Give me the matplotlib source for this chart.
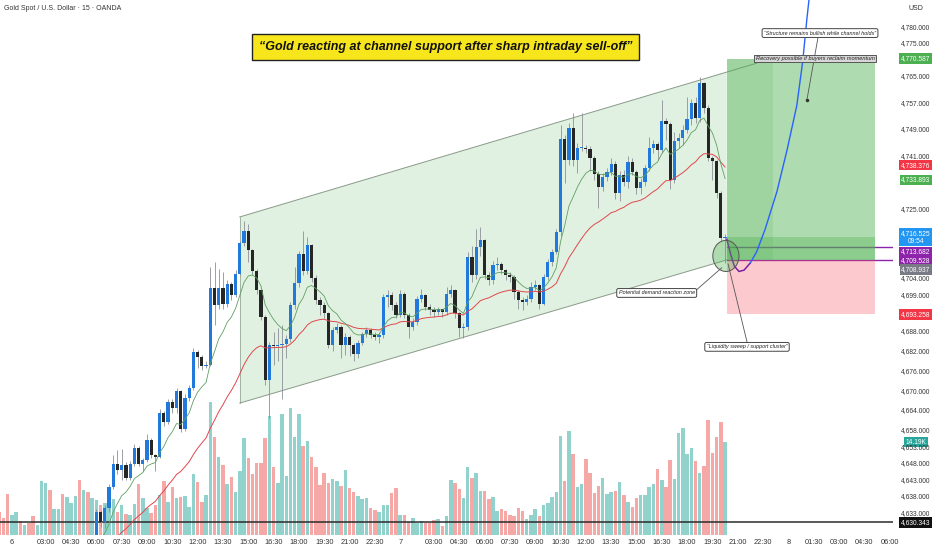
import numpy as np
import pandas as pd
import matplotlib
matplotlib.use("Agg")
import matplotlib.pyplot as plt
import matplotlib.transforms as mtransforms
from matplotlib.patches import Rectangle, Ellipse, Polygon

FONT = ['Liberation Sans Narrow', 'DejaVu Sans Condensed', 'Liberation Sans', 'DejaVu Sans']
plt.rcParams['font.family'] = FONT

# ---------------- data ----------------
first_bar = -3
first_open = 4619.0
closes = [
    4617, 4616, 4613, 4615, 4617, 4616, 4617, 4616, 4614, 4615, 4619, 4622, 4619,
    4620, 4621, 4618, 4620, 4621, 4624, 4620, 4623, 4621, 4624,
    4633.5, 4630.5, 4634.7, 4641.0, 4648.1, 4646.1, 4647.8, 4643.8, 4648.1, 4652.9,
    4648.1, 4649.1, 4655.2, 4650.6, 4650.1, 4663.5, 4660.7, 4666.8, 4664.8, 4670.0,
    4658.7, 4668.0, 4671.0, 4681.9, 4680.2, 4677.6, 4677.9, 4701.3, 4696.2, 4701.3,
    4696.5, 4702.3, 4699.0, 4705.4, 4714.9, 4718.5, 4712.6, 4706.3, 4700.5, 4692.5,
    4673.4, 4683.9, 4683.6, 4683.9, 4684.2, 4685.7, 4696.0, 4702.6, 4711.6, 4706.3,
    4714.2, 4704.1, 4697.5, 4696.0, 4693.5, 4683.9, 4688.5, 4689.5, 4683.9, 4686.4,
    4683.9, 4681.2, 4684.7, 4687.4, 4688.5, 4687.0, 4686.5, 4687.0, 4698.5, 4699.0,
    4696.0, 4693.0, 4699.5, 4693.0, 4689.5, 4691.0, 4698.0, 4699.2, 4695.5, 4694.5,
    4694.0, 4694.8, 4693.8, 4699.5, 4700.6, 4693.5, 4689.0, 4689.5, 4710.6, 4705.1,
    4713.7, 4715.7, 4705.1, 4703.6, 4708.1, 4708.6, 4706.6, 4705.1, 4704.6, 4700.0,
    4697.5, 4697.0, 4698.0, 4701.6, 4702.0, 4696.5, 4704.5, 4709.1, 4712.0, 4718.2,
    4746.4, 4739.9, 4749.5, 4739.9, 4743.4, 4743.6, 4743.2, 4740.4, 4735.8, 4731.8,
    4734.8, 4736.4, 4738.6, 4729.8, 4735.3, 4733.3, 4739.4, 4736.4, 4731.3, 4733.3,
    4737.6, 4743.4, 4744.6, 4742.9, 4751.7, 4750.7, 4733.8, 4745.6, 4746.5, 4748.9,
    4752.3, 4757.2, 4752.5, 4763.1, 4755.5, 4740.6, 4739.6, 4729.8, 4716.2, 4716.5,
]
highs = [
    4620, 4618, 4617, 4616, 4618, 4618, 4618, 4618, 4617, 4616, 4620, 4623, 4623,
    4621, 4622, 4622, 4621, 4623, 4625, 4625, 4624, 4624, 4625,
    4634.5, 4634.0, 4635.5, 4642.0, 4650.6, 4652.1, 4652.5, 4648.5, 4649.0, 4654.0,
    4653.5, 4649.8, 4657.0, 4655.8, 4651.0, 4664.5, 4664.0, 4667.5, 4667.5, 4671.0,
    4670.5, 4669.0, 4672.0, 4683.0, 4682.5, 4681.0, 4679.0, 4707.5, 4709.0, 4707.0,
    4706.0, 4703.5, 4703.0, 4706.5, 4715.5, 4721.5, 4720.5, 4713.0, 4707.0, 4701.0,
    4693.0, 4685.0, 4688.0, 4689.0, 4690.0, 4687.0, 4697.0, 4707.5, 4712.5, 4718.5,
    4716.5, 4714.5, 4705.0, 4698.5, 4697.0, 4694.0, 4689.5, 4690.5, 4690.0, 4687.5,
    4687.0, 4684.5, 4685.5, 4688.0, 4689.5, 4689.0, 4688.0, 4688.0, 4699.5, 4700.5,
    4700.0, 4697.0, 4700.5, 4700.0, 4693.5, 4692.0, 4698.8, 4701.0, 4699.5, 4696.5,
    4695.5, 4695.5, 4695.0, 4701.5, 4702.0, 4701.0, 4694.0, 4690.5, 4712.0, 4714.0,
    4719.0, 4719.5, 4716.0, 4706.0, 4709.5, 4710.5, 4709.0, 4707.0, 4706.0, 4705.0,
    4700.5, 4698.5, 4699.0, 4703.0, 4703.5, 4702.5, 4705.5, 4710.0, 4713.0, 4719.0,
    4750.5, 4747.5, 4751.0, 4754.0, 4745.0, 4754.0, 4744.5, 4744.0, 4741.0, 4736.5,
    4736.0, 4737.5, 4740.5, 4739.5, 4736.5, 4737.0, 4741.0, 4740.5, 4737.0, 4734.5,
    4738.5, 4747.0, 4746.0, 4745.5, 4758.0, 4752.5, 4751.5, 4748.5, 4748.0, 4750.5,
    4759.0, 4758.5, 4759.0, 4765.0, 4763.5, 4756.5, 4741.0, 4740.0, 4730.5, 4717.5,
]
lows = [
    4616, 4614, 4612, 4612, 4614, 4615, 4615, 4615, 4613, 4613, 4614, 4618, 4618,
    4618, 4619, 4617, 4617, 4619, 4620, 4619, 4619, 4620, 4620,
    4618.0, 4629.0, 4628.5, 4633.5, 4640.5, 4645.0, 4643.2, 4643.0, 4643.0, 4647.5,
    4647.5, 4646.0, 4648.5, 4649.8, 4646.0, 4649.8, 4659.5, 4660.0, 4663.5, 4663.5,
    4657.8, 4658.0, 4667.0, 4670.5, 4677.0, 4676.5, 4677.0, 4677.5, 4690.0, 4695.0,
    4695.0, 4695.5, 4697.5, 4698.5, 4705.0, 4714.0, 4709.0, 4705.0, 4699.5, 4691.5,
    4672.0, 4662.0, 4678.0, 4679.0, 4667.5, 4680.0, 4685.0, 4695.0, 4701.5, 4705.0,
    4705.5, 4703.0, 4696.5, 4693.0, 4692.0, 4683.0, 4682.0, 4687.5, 4680.0, 4681.0,
    4680.5, 4679.0, 4680.0, 4684.0, 4686.5, 4686.0, 4685.5, 4684.5, 4686.0, 4695.5,
    4694.5, 4692.0, 4692.5, 4692.0, 4686.0, 4688.5, 4690.0, 4697.0, 4694.5, 4693.0,
    4692.5, 4693.0, 4692.5, 4693.0, 4698.5, 4692.0, 4686.5, 4686.0, 4688.5, 4703.0,
    4704.0, 4711.0, 4704.0, 4702.0, 4702.5, 4706.5, 4705.5, 4703.5, 4703.0, 4698.0,
    4695.0, 4694.5, 4696.0, 4697.0, 4700.5, 4695.0, 4696.0, 4703.5, 4708.0, 4711.5,
    4717.0, 4733.0, 4738.5, 4738.0, 4736.0, 4742.5, 4742.0, 4736.5, 4734.0, 4725.5,
    4730.5, 4733.5, 4735.5, 4728.0, 4727.5, 4732.0, 4731.5, 4735.5, 4729.5, 4729.5,
    4732.0, 4736.5, 4742.0, 4740.0, 4742.0, 4746.0, 4731.0, 4733.0, 4743.5, 4744.5,
    4748.0, 4750.5, 4751.0, 4751.5, 4754.0, 4739.5, 4734.0, 4728.5, 4715.5, 4708.9,
]
volumes_k = [
    3.56, 2.65, 6.21, 3.05, 3.46, 2.14, 1.53, 1.78, 2.95, 1.50,
    8.24, 7.99, 6.87, 3.97, 3.97, 6.31, 5.80, 4.83, 5.95, 8.40,
    6.87, 6.51, 5.70, 5.34, 4.58, 4.83, 7.28, 5.45, 3.46, 4.58,
    3.16, 3.05, 4.68, 7.79, 5.60, 4.07, 3.41, 4.58, 6.11, 8.24,
    5.09, 7.28, 5.60, 5.85, 6.01, 4.22, 9.26, 8.14, 4.99, 6.11,
    20.36, 15.01, 11.86, 10.69, 7.74, 8.91, 6.62, 9.77, 14.76, 11.70,
    9.31, 11.04, 11.04, 14.76, 18.17, 10.43, 7.99, 18.47, 9.01, 19.34,
    14.91, 18.47, 13.59, 14.40, 11.96, 10.33, 7.63, 9.52, 7.89, 8.55,
    8.30, 7.48, 9.92, 7.12, 6.62, 5.95, 5.50, 5.60, 4.07, 3.82,
    3.46, 4.53, 4.53, 6.36, 7.12, 3.05, 3.05, 2.04, 2.54, 1.78,
    2.19, 1.88, 1.88, 2.29, 2.39, 1.37, 2.90, 8.40, 7.89, 6.97,
    5.70, 10.43, 8.75, 9.52, 6.72, 6.72, 5.45, 5.85, 3.72, 3.92,
    3.72, 3.05, 2.90, 4.07, 3.66, 2.39, 3.05, 3.97, 2.95, 4.58,
    4.94, 5.85, 6.51, 15.11, 8.24, 15.93, 12.32, 7.38, 7.79, 11.60,
    9.52, 6.36, 7.48, 8.65, 6.21, 6.51, 6.77, 8.09, 6.11, 5.09,
    4.33, 5.70, 6.11, 6.11, 7.28, 7.74, 10.08, 8.40, 7.28, 11.45,
    8.60, 15.62, 16.34, 12.37, 13.23, 11.30, 9.52, 10.53, 17.56, 12.47,
    14.91, 17.30, 14.19,
]

time_tick_pos = [0, 8, 14, 20, 26, 32, 38, 44, 50, 56, 62, 68, 74, 80, 86, 92, 100, 106,
                 112, 118, 124, 130, 136, 142, 148, 154, 160, 166, 172, 178, 184, 190,
                 196, 202, 208]
time_tick_labels = ['6', '03:00', '04:30', '06:00', '07:30', '09:00', '10:30', '12:00',
                    '13:30', '15:00', '16:30', '18:00', '19:30', '21:00', '22:30', '7',
                    '03:00', '04:30', '06:00', '07:30', '09:00', '10:30', '12:00', '13:30',
                    '15:00', '16:30', '18:00', '19:30', '21:00', '22:30', '8', '01:30',
                    '03:00', '04:30', '06:00']
price_ticks = [4780, 4775, 4765, 4757, 4749, 4741, 4725, 4704, 4699, 4688, 4682, 4676,
               4670, 4664, 4658, 4653, 4648, 4643, 4638, 4633]

ema_fast_span = 9
ema_slow_span = 30
ema_fast_last = 4733.893
ema_slow_last = 4738.376

target_price = 4770.587
entry_price = 4716.525
level_a = 4713.682
level_b = 4709.528
stop_price = 4693.258
sweep_low = 4708.937
support_level = 4630.343
last_volume_k = 14.19

# channel (bar index, price)
chan_x = [54.0, 169.4]
chan_upper = [4722.7, 4766.5]
chan_lower = [4666.4, 4709.7]

# projection path (bar index, price)
proj_x = [169.4, 170.3, 171.2, 172.3, 173.5, 175.0, 176.5, 178.5, 181.3, 183.7, 186.0, 187.4, 188.4, 189.2]
proj_y = [4716.0, 4711.5, 4707.8, 4706.2, 4706.6, 4708.8, 4712.2, 4719.0, 4730.4, 4743.0, 4756.4, 4769.7, 4782.7, 4792.0]

# ---------------- derived ----------------
x = np.arange(first_bar, first_bar + len(closes))
c = np.array(closes, float)
h = np.array(highs, float)
l = np.array(lows, float)
o = np.r_[first_open, c[:-1]]
up = c >= o
v = np.array(volumes_k, float)
ema_fast = pd.Series(c).ewm(span=ema_fast_span, adjust=False).mean().values
ema_slow = pd.Series(c).ewm(span=ema_slow_span, adjust=False).mean().values

UP = '#2179dc'
DOWN = '#262626'
WICK = '#8c8f98'
VOL_UP = (38/255, 166/255, 154/255, 0.5)
VOL_DN = (239/255, 83/255, 80/255, 0.5)

W, H = 932, 550
fig = plt.figure(figsize=(W/100, H/100), dpi=100)
fig.patch.set_facecolor('white')
rect = [0, 15/H, 893/W, 535/H]
XMIN, XMAX = -2.84, 208.8
YMIN, YMAX = 4626.5, 4788.3

axv = fig.add_axes(rect)
axv.bar(x, v, width=0.82, color=[VOL_UP if u else VOL_DN for u in up], linewidth=0)
axv.set_xlim(XMIN, XMAX)
axv.set_ylim(0, 81.7)
axv.axis('off')

ax = fig.add_axes(rect)
ax.patch.set_alpha(0)
ax.set_xlim(XMIN, XMAX)
ax.set_ylim(YMIN, YMAX)
for s in ax.spines.values():
    s.set_visible(False)
ax.set_yticks([])
ax.set_xticks(time_tick_pos)
ax.set_xticklabels(time_tick_labels)
ax.tick_params(axis='x', length=0, pad=3, labelsize=5.3, colors='#333333')

# channel
chan_poly = Polygon([(chan_x[0], chan_lower[0]), (chan_x[0], chan_upper[0]),
                     (chan_x[1], chan_upper[1]), (chan_x[1], chan_lower[1])],
                    closed=True, facecolor=(0.30, 0.69, 0.31, 0.17), edgecolor='none', zorder=1)
ax.add_patch(chan_poly)
slope_u = (chan_upper[1] - chan_upper[0]) / (chan_x[1] - chan_x[0])
ax.plot([chan_x[0], 176.5], [chan_upper[0], chan_upper[0] + slope_u*(176.5-chan_x[0])],
        color='#8a9a8a', lw=0.7, zorder=2)
ax.plot(chan_x, chan_lower, color='#8a9a8a', lw=0.7, zorder=2)
ax.plot([chan_x[0], chan_x[0]], [chan_lower[0], chan_upper[0]], color='#8a9a8a', lw=0.5, zorder=2)

# position tool boxes
x_box0, x_box1, x_box_mid = 169.4, 204.5, 180.3
ax.plot([x_box0, XMAX], [level_a, level_a], color='#8e24aa', lw=1.0, zorder=1.5)
ax.plot([x_box0, XMAX], [level_b, level_b], color='#8e24aa', lw=1.0, zorder=1.5)
ax.add_patch(Rectangle((x_box0, level_b), x_box1-x_box0, target_price-level_b,
                       facecolor=(0.30, 0.69, 0.31, 0.45), edgecolor='none', zorder=2))
ax.add_patch(Rectangle((x_box0, level_b), x_box_mid-x_box0, target_price-level_b,
                       facecolor=(0.30, 0.69, 0.31, 0.15), edgecolor='none', zorder=2))
ax.add_patch(Rectangle((x_box0, level_b), x_box1-x_box0, entry_price-level_b,
                       facecolor=(0.30, 0.69, 0.31, 0.35), edgecolor='none', zorder=2))
ax.add_patch(Rectangle((x_box0, stop_price), x_box1-x_box0, level_b-stop_price,
                       facecolor=(0.97, 0.32, 0.37, 0.30), edgecolor='none', zorder=2))

# support level
ax.axhline(support_level, color='#2b2b2b', lw=1.1, zorder=3)

# EMAs
ax.plot(x, ema_slow, color='#e0474c', lw=0.7, zorder=5)
ax.plot(x, ema_fast, color='#5f9f63', lw=0.6, zorder=5)

# candles
ax.vlines(x, l, h, color=WICK, lw=0.6, zorder=4)
body_lo = np.minimum(o, c)
body_h = np.maximum(np.abs(c - o), 0.3)
ax.bar(x, body_h, bottom=body_lo, width=0.76, color=[UP if u else DOWN for u in up],
       linewidth=0, zorder=4.5)

# projection curve
k = 5
ax.plot(proj_x[:k+1], proj_y[:k+1], color='#7b1fa2', lw=1.1, zorder=6, solid_capstyle='round')
ax.plot(proj_x[k:], proj_y[k:], color='#2962ff', lw=1.0, zorder=6, solid_capstyle='round')

# demand circle
ax.add_patch(Ellipse((169.2, 4710.9), 6.2, 9.4, facecolor=(0.30, 0.69, 0.31, 0.35),
                     edgecolor='#555555', lw=0.7, zorder=6))

# annotation connectors
ax.plot([161.4, 168.2], [4699.7, 4707.3], color='#555555', lw=0.6, zorder=6)
ax.plot([174.2, 169.7], [4684.9, 4708.5], color='#555555', lw=0.6, zorder=6)
ax.plot([191.0, 188.4], [4776.8, 4758.1], color='#555555', lw=0.6, zorder=6)
ax.plot([188.4], [4758.1], marker='o', ms=1.5, color='#333333', zorder=6)

box_kw = dict(boxstyle='round,pad=0.35,rounding_size=0.3', fc='white', ec='#444444', lw=0.7)
ax.text(152.8, 4699.7, 'Potential demand reaction zone', fontsize=3.9, style='italic',
        ha='center', va='center', bbox=box_kw, zorder=7, color='#222222')
ax.text(174.2, 4683.4, '\u201cLiquidity sweep / support cluster\u201d', fontsize=3.9, style='italic',
        ha='center', va='center', bbox=box_kw, zorder=7, color='#222222')
ax.text(191.5, 4778.3, '\u201cStructure remains bullish while channel holds\u201d', fontsize=3.9,
        style='italic', ha='center', va='center', bbox=box_kw, zorder=7, color='#222222')
ax.text(190.3, 4770.6, 'Recovery possible if buyers reclaim momentum', fontsize=4.1,
        style='italic', ha='center', va='center', zorder=7, color='#222222',
        bbox=dict(boxstyle='square,pad=0.25', fc='#d6d6d6', ec='#555555', lw=0.7))

# title
ax.text(102.8, 4774.1, '\u201cGold reacting at channel support after sharp intraday sell-off\u201d',
        fontsize=9.0, fontweight='bold', style='italic', ha='center', va='center', zorder=8,
        color='#111111',
        bbox=dict(boxstyle='square,pad=0.55', fc='#f8e61c', ec='#222222', lw=1.0))

# header
fig.text(4/W, 1 - 9/H, 'Gold Spot / U.S. Dollar \u00b7 15 \u00b7 OANDA', fontsize=5,
         va='center', ha='left', color='#333333')
fig.text(916/W, 1 - 9/H, 'USD', fontsize=5, va='center', ha='center', color='#333333')

# right price scale
tr = mtransforms.blended_transform_factory(ax.transAxes, ax.transData)
LX = 916/893
for p in price_ticks:
    ax.text(LX, p, f'{p:,.3f}', transform=tr, fontsize=4.8, ha='center', va='center',
            color='#333333', clip_on=False, zorder=1)

def badge(text, price, color, dy=0.0, axis=ax):
    t = mtransforms.blended_transform_factory(axis.transAxes, axis.transData)
    axis.annotate(text, xy=(LX, price), xycoords=t, xytext=(0, dy), textcoords='offset points',
                  fontsize=4.8, ha='center', va='center', color='white', annotation_clip=False,
                  zorder=10, linespacing=1.1,
                  bbox=dict(boxstyle='square,pad=0.28', fc=color, ec='none'))

badge(f'{target_price:,.3f}', target_price, '#4caf50')
badge(f'{ema_slow_last:,.3f}', ema_slow_last, '#f23645')
badge(f'{ema_fast_last:,.3f}', ema_fast_last, '#4caf50')
badge(f'{entry_price:,.3f}\n09:54', entry_price, '#2196f3')
badge(f'{level_a:,.3f}', level_a, '#8e24aa', dy=-3.8)
badge(f'{level_b:,.3f}', level_b, '#8e24aa')
badge(f'{sweep_low:,.3f}', sweep_low, '#787b86', dy=-5.2)
badge(f'{stop_price:,.3f}', stop_price, '#f23645')
badge(f'{support_level:,.3f}', support_level, '#111111')
badge(f'{last_volume_k:.2f}K', last_volume_k, '#26a69a', axis=axv)

fig.savefig('out.png', dpi=100, facecolor='white')
